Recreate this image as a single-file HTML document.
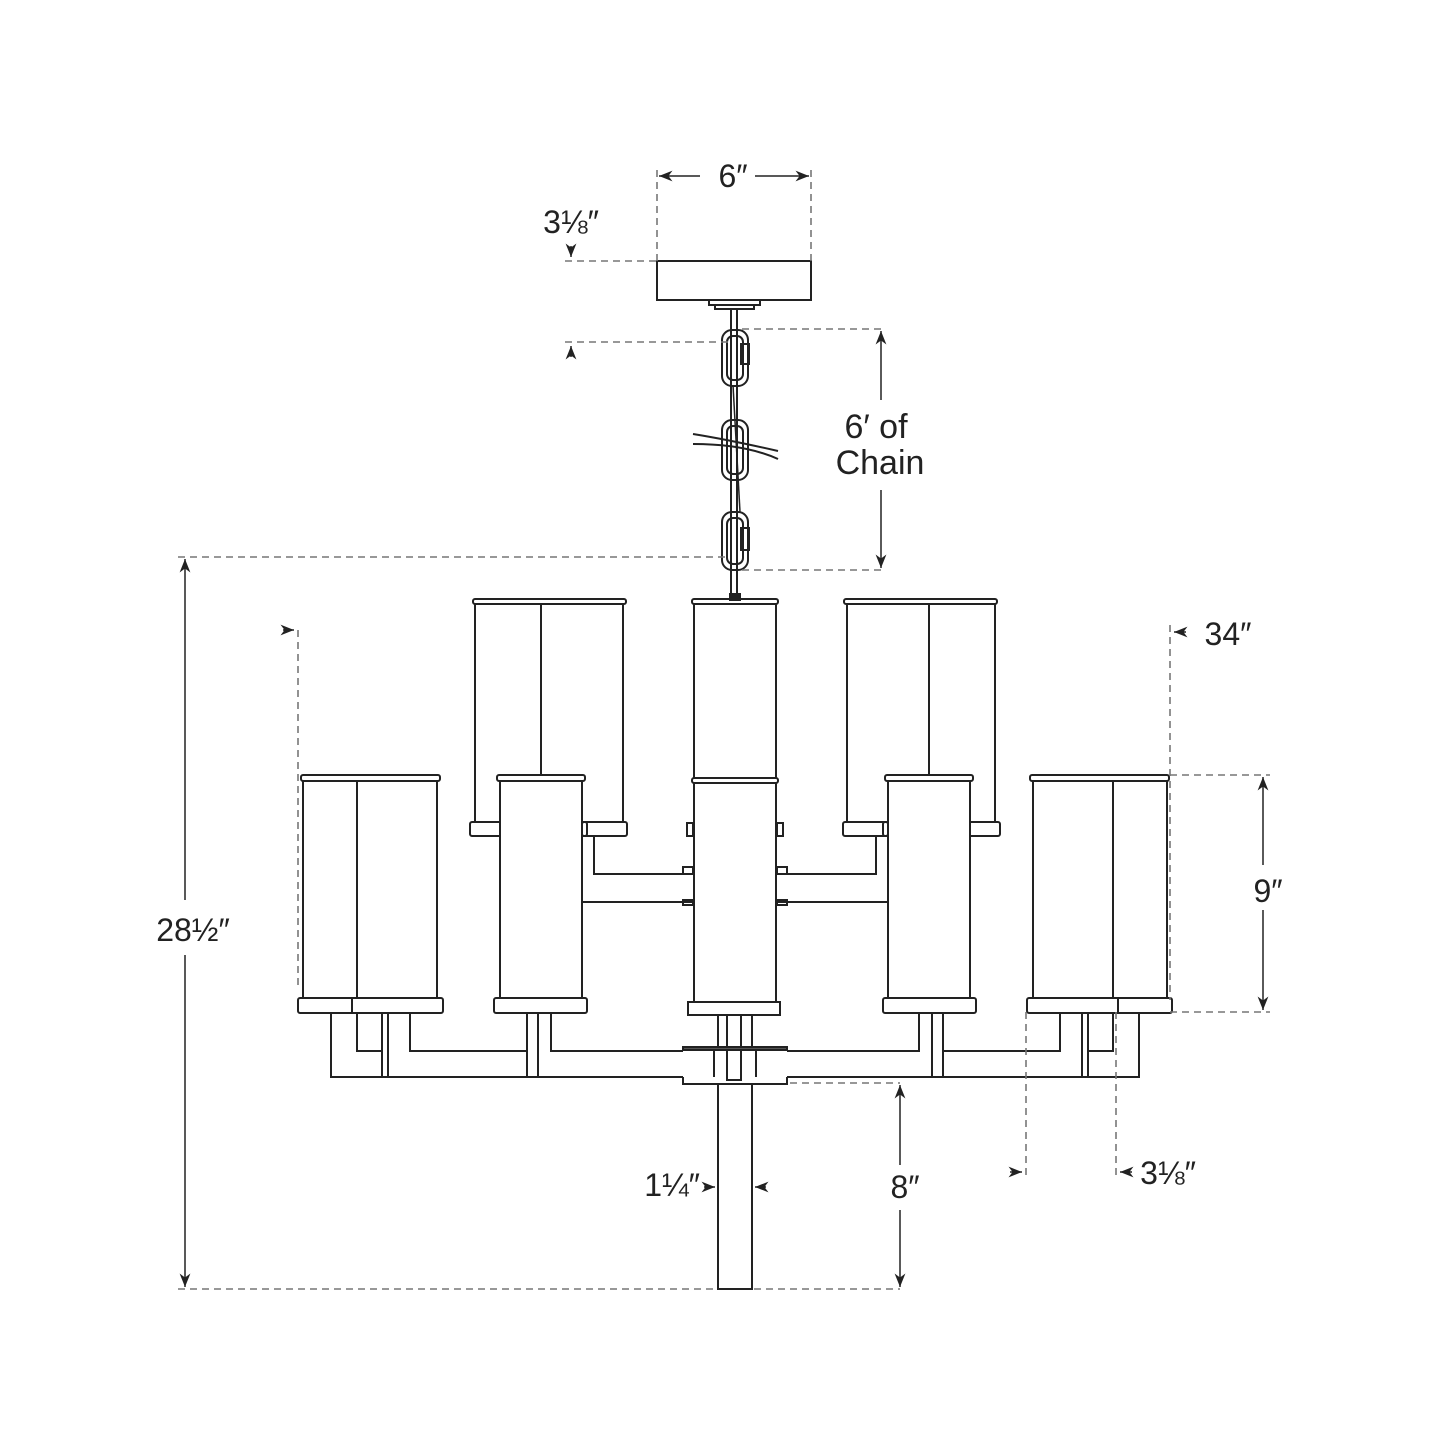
<!DOCTYPE html>
<html><head><meta charset="utf-8"><style>
html,body{margin:0;padding:0;background:#fff}
svg{display:block}
text{font-family:"Liberation Sans","DejaVu Sans",sans-serif;fill:#222}
</style></head><body>
<svg width="1445" height="1445" viewBox="0 0 1445 1445" xmlns="http://www.w3.org/2000/svg">
<defs>
<marker id="ah" viewBox="0 0 10 10" refX="10" refY="5" markerWidth="9" markerHeight="9" orient="auto-start-reverse"><path d="M0,1 L10,5 L0,9 L3,5 z" fill="#222"/></marker>
</defs>
<g fill="none" stroke="#222" stroke-width="2">
<rect x="657" y="261" width="154" height="39"/>
<rect x="709" y="300" width="51" height="5"/>
<rect x="715" y="305" width="39" height="4"/>
<line x1="731" y1="309" x2="731" y2="600"/><line x1="737" y1="309" x2="737" y2="600"/>
<rect x="722" y="330" width="26" height="56" rx="10"/>
<rect x="727" y="336" width="16" height="44" rx="6"/>
<rect x="741" y="344" width="8" height="20"/>
<rect x="722" y="420" width="26" height="60" rx="10"/>
<rect x="727" y="426" width="16" height="48" rx="6"/>
<rect x="722" y="512" width="26" height="58" rx="10"/>
<rect x="727" y="518" width="16" height="46" rx="6"/>
<rect x="741" y="528" width="8" height="22"/>
<line x1="733" y1="385" x2="740" y2="512" stroke-width="1.5"/>
<path d="M693,434 Q730,440 778,451"/><path d="M693,444 Q745,444 778,459"/>
<rect x="730" y="594" width="10" height="6" fill="#222"/>

<rect x="692" y="599" width="86" height="5" rx="2"/>
<line x1="694" y1="604" x2="694" y2="778"/><line x1="776" y1="604" x2="776" y2="778"/>
<rect x="692" y="778" width="86" height="5" rx="2"/>
<line x1="694" y1="783" x2="694" y2="1002"/><line x1="776" y1="783" x2="776" y2="1002"/>
<rect x="688" y="1002" width="92" height="13"/>
<rect x="718" y="1015" width="34" height="33"/>
<rect x="727" y="1015" width="14" height="65"/>
<rect x="683" y="1047" width="104" height="3" fill="#555"/>
<path d="M683,1077 L683,1084 L787,1084 L787,1077"/>
<rect x="718" y="1084" width="34" height="205"/>
<rect x="687" y="823" width="6" height="13"/><rect x="777" y="823" width="6" height="13"/>

<g id="half">
<rect x="473" y="599" width="153" height="5" rx="2"/>
<line x1="475" y1="604" x2="475" y2="822"/><line x1="623" y1="604" x2="623" y2="822"/>
<line x1="541" y1="604" x2="541" y2="775"/>
<rect x="470" y="822" width="117" height="14" rx="2"/>
<rect x="582" y="822" width="45" height="14" rx="2"/>
<path d="M594,836 L594,874 L692,874"/>
<line x1="582" y1="902" x2="692" y2="902"/>
<rect x="683" y="867" width="10" height="7"/><rect x="683" y="900" width="10" height="5"/>
<rect x="497" y="775" width="88" height="6" rx="2" fill="#fff"/>
<rect x="500" y="781" width="82" height="217" fill="#fff"/>
<rect x="494" y="998" width="93" height="15" rx="2"/>
<rect x="301" y="775" width="139" height="6" rx="2"/>
<line x1="303" y1="781" x2="303" y2="998"/><line x1="437" y1="781" x2="437" y2="998"/>
<line x1="357" y1="781" x2="357" y2="998"/>
<rect x="298" y="998" width="145" height="15" rx="2"/>
<line x1="352" y1="998" x2="352" y2="1013"/>
<path d="M331,1013 L331,1077 L683,1077"/>
<path d="M357,1013 L357,1051 L382,1051"/>
<rect x="382" y="1013" width="6" height="64"/>
<path d="M410,1013 L410,1051 L527,1051"/>
<rect x="527" y="1013" width="11" height="64"/>
<path d="M551,1013 L551,1051 L683,1051"/>
<path d="M714,1051 L714,1077" />
</g>
<use href="#half" transform="translate(1470,0) scale(-1,1)"/>
</g>

<g fill="none" stroke="#777" stroke-width="1.6" stroke-dasharray="7,5">
<line x1="657" y1="170" x2="657" y2="261"/><line x1="811" y1="170" x2="811" y2="261"/>
<line x1="565" y1="261" x2="657" y2="261"/>
<line x1="565" y1="342" x2="728" y2="342"/>
<line x1="742" y1="329" x2="886" y2="329"/><line x1="742" y1="570" x2="886" y2="570"/>
<line x1="178" y1="557" x2="728" y2="557"/>
<line x1="178" y1="1289" x2="716" y2="1289"/><line x1="754" y1="1289" x2="900" y2="1289"/>
<line x1="298" y1="630" x2="298" y2="985"/>
<line x1="1170" y1="625" x2="1170" y2="1000"/>
<line x1="1170" y1="775" x2="1270" y2="775"/><line x1="1170" y1="1012" x2="1270" y2="1012"/>
<line x1="790" y1="1083" x2="900" y2="1083"/>
<line x1="1026" y1="1012" x2="1026" y2="1175"/><line x1="1116" y1="1012" x2="1116" y2="1175"/>
</g>
<g fill="none" stroke="#222" stroke-width="1.5">
<line x1="700" y1="176" x2="659" y2="176" marker-end="url(#ah)"/>
<line x1="755" y1="176" x2="809" y2="176" marker-end="url(#ah)"/>
<line x1="571" y1="246" x2="571" y2="257" marker-end="url(#ah)"/>
<line x1="571" y1="357" x2="571" y2="346" marker-end="url(#ah)"/>
<line x1="881" y1="400" x2="881" y2="331" marker-end="url(#ah)"/>
<line x1="881" y1="490" x2="881" y2="568" marker-end="url(#ah)"/>
<line x1="185" y1="900" x2="185" y2="559" marker-end="url(#ah)"/>
<line x1="185" y1="955" x2="185" y2="1287" marker-end="url(#ah)"/>
<line x1="283" y1="630" x2="294" y2="630" marker-end="url(#ah)"/>
<line x1="1186" y1="632" x2="1174" y2="632" marker-end="url(#ah)"/>
<line x1="1263" y1="865" x2="1263" y2="777" marker-end="url(#ah)"/>
<line x1="1263" y1="910" x2="1263" y2="1010" marker-end="url(#ah)"/>
<line x1="900" y1="1165" x2="900" y2="1085" marker-end="url(#ah)"/>
<line x1="900" y1="1210" x2="900" y2="1287" marker-end="url(#ah)"/>
<line x1="704" y1="1187" x2="715" y2="1187" marker-end="url(#ah)"/>
<line x1="766" y1="1187" x2="755" y2="1187" marker-end="url(#ah)"/>
<line x1="1010" y1="1172" x2="1022" y2="1172" marker-end="url(#ah)"/>
<line x1="1132" y1="1172" x2="1120" y2="1172" marker-end="url(#ah)"/>
</g>
<g font-size="32">
<text x="733" y="187" text-anchor="middle">6″</text>
<text x="571" y="233" text-anchor="middle">3⅛″</text>
<text x="876" y="438" text-anchor="middle" font-size="34">6′ of</text>
<text x="880" y="474" text-anchor="middle" font-size="34">Chain</text>
<text x="193" y="941" text-anchor="middle">28½″</text>
<text x="1228" y="645" text-anchor="middle">34″</text>
<text x="1268" y="902" text-anchor="middle">9″</text>
<text x="905" y="1198" text-anchor="middle">8″</text>
<text x="700" y="1196" text-anchor="end">1¼″</text>
<text x="1168" y="1184" text-anchor="middle">3⅛″</text>
</g>
</svg>
</body></html>
